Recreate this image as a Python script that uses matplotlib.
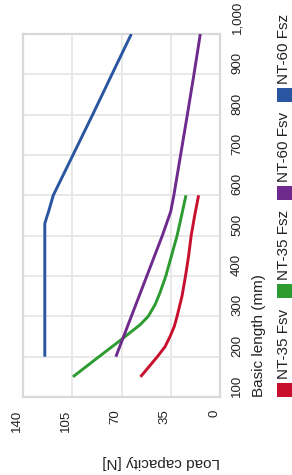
import matplotlib
matplotlib.use("Agg")
import matplotlib.pyplot as plt
from matplotlib.patches import Rectangle

plt.rcParams['font.family'] = ['Liberation Sans', 'DejaVu Sans']

series_names = ["NT-35 Fsv", "NT-35 Fsz", "NT-60 Fsv", "NT-60 Fsz"]
series_colors = ["#c8102e", "#2e9b30", "#6e2a8c", "#2a55a0"]

len_35_fsv = [150, 175, 200, 225, 250, 275, 300, 350, 400, 450, 500, 550, 600]
load_35_fsv = [56.5, 50.5, 44.5, 39.0, 35.5, 32.5, 30.5, 27.0, 24.5, 22.3, 20.5, 18.0, 15.2]

len_35_fsz = [150, 200, 240, 280, 300, 330, 360, 400, 450, 500, 550, 600]
load_35_fsz = [104.5, 86.0, 71.0, 56.5, 51.0, 46.0, 42.5, 38.5, 34.5, 30.5, 27.3, 24.2]

len_60_fsv = [200, 300, 400, 500, 540, 560, 600, 700, 800, 900, 1000]
load_60_fsv = [74.0, 63.0, 52.0, 41.0, 37.0, 35.0, 32.8, 28.0, 23.2, 18.5, 14.0]

len_60_fsz = [200, 300, 400, 500, 530, 545, 560, 600, 700, 800, 900, 1000]
load_60_fsz = [124.5, 124.5, 124.5, 124.5, 124.5, 123.2, 121.8, 118.5, 104.5, 90.5, 76.8, 63.0]

lengths = [len_35_fsv, len_35_fsz, len_60_fsv, len_60_fsz]
loads = [load_35_fsv, load_35_fsz, load_60_fsv, load_60_fsz]

load_ticks = [0, 35, 70, 105, 140]
length_ticks = [100, 200, 300, 400, 500, 600, 700, 800, 900, 1000]
length_labels = ["100", "200", "300", "400", "500", "600", "700", "800", "900", "1,000"]

W, H = 292, 475
fig = plt.figure(figsize=(W / 100, H / 100), dpi=100)
ax = fig.add_axes([23 / W, (H - 397) / H, (220 - 23) / W, (397 - 34) / H])

for x, y, c in zip(loads, lengths, series_colors):
    ax.plot(x, y, color=c, lw=2.1, solid_capstyle='butt', zorder=3)

ax.set_xlim(140, 0)
ax.set_ylim(100, 1000)
ax.set_xticks(load_ticks)
ax.set_xticklabels([str(v) for v in load_ticks], rotation=90, ha='right', va='top', fontsize=9.5)
ax.yaxis.tick_right()
ax.set_yticks(length_ticks)
ax.set_yticklabels(length_labels, rotation=90, ha='left', va='bottom', fontsize=9.5)
ax.tick_params(length=0, colors='#222222')
ax.tick_params(axis='x', pad=9)
ax.tick_params(axis='y', pad=8)
ax.grid(True, color='#e8e8e8', lw=1.4)
ax.set_axisbelow(True)
for s in ax.spines.values():
    s.set_color('#d9d9d9')
    s.set_linewidth(1.6)

fig.text(252 / W, (H - 397) / H, "Basic length (mm)", rotation=90,
         ha='left', va='bottom', fontsize=11, color='#222222')
fig.text(220 / W, (H - 462) / H, "Load capacity [N]", rotation=180,
         ha='right', va='center', fontsize=11, color='#222222')

# legend drawn by hand, rotated like the rest
sq_bottoms = [397, 298, 200, 102]
for name, c, yb in zip(series_names, series_colors, sq_bottoms):
    fig.add_artist(Rectangle((277 / W, (H - yb) / H), 15 / W, 14 / H,
                             transform=fig.transFigure, color=c, lw=0))
    fig.text(291.5 / W, (H - yb + 18) / H, name, rotation=90, ha='right', va='bottom',
             fontsize=11, color='#222222')

fig.savefig("out.png", dpi=100)
